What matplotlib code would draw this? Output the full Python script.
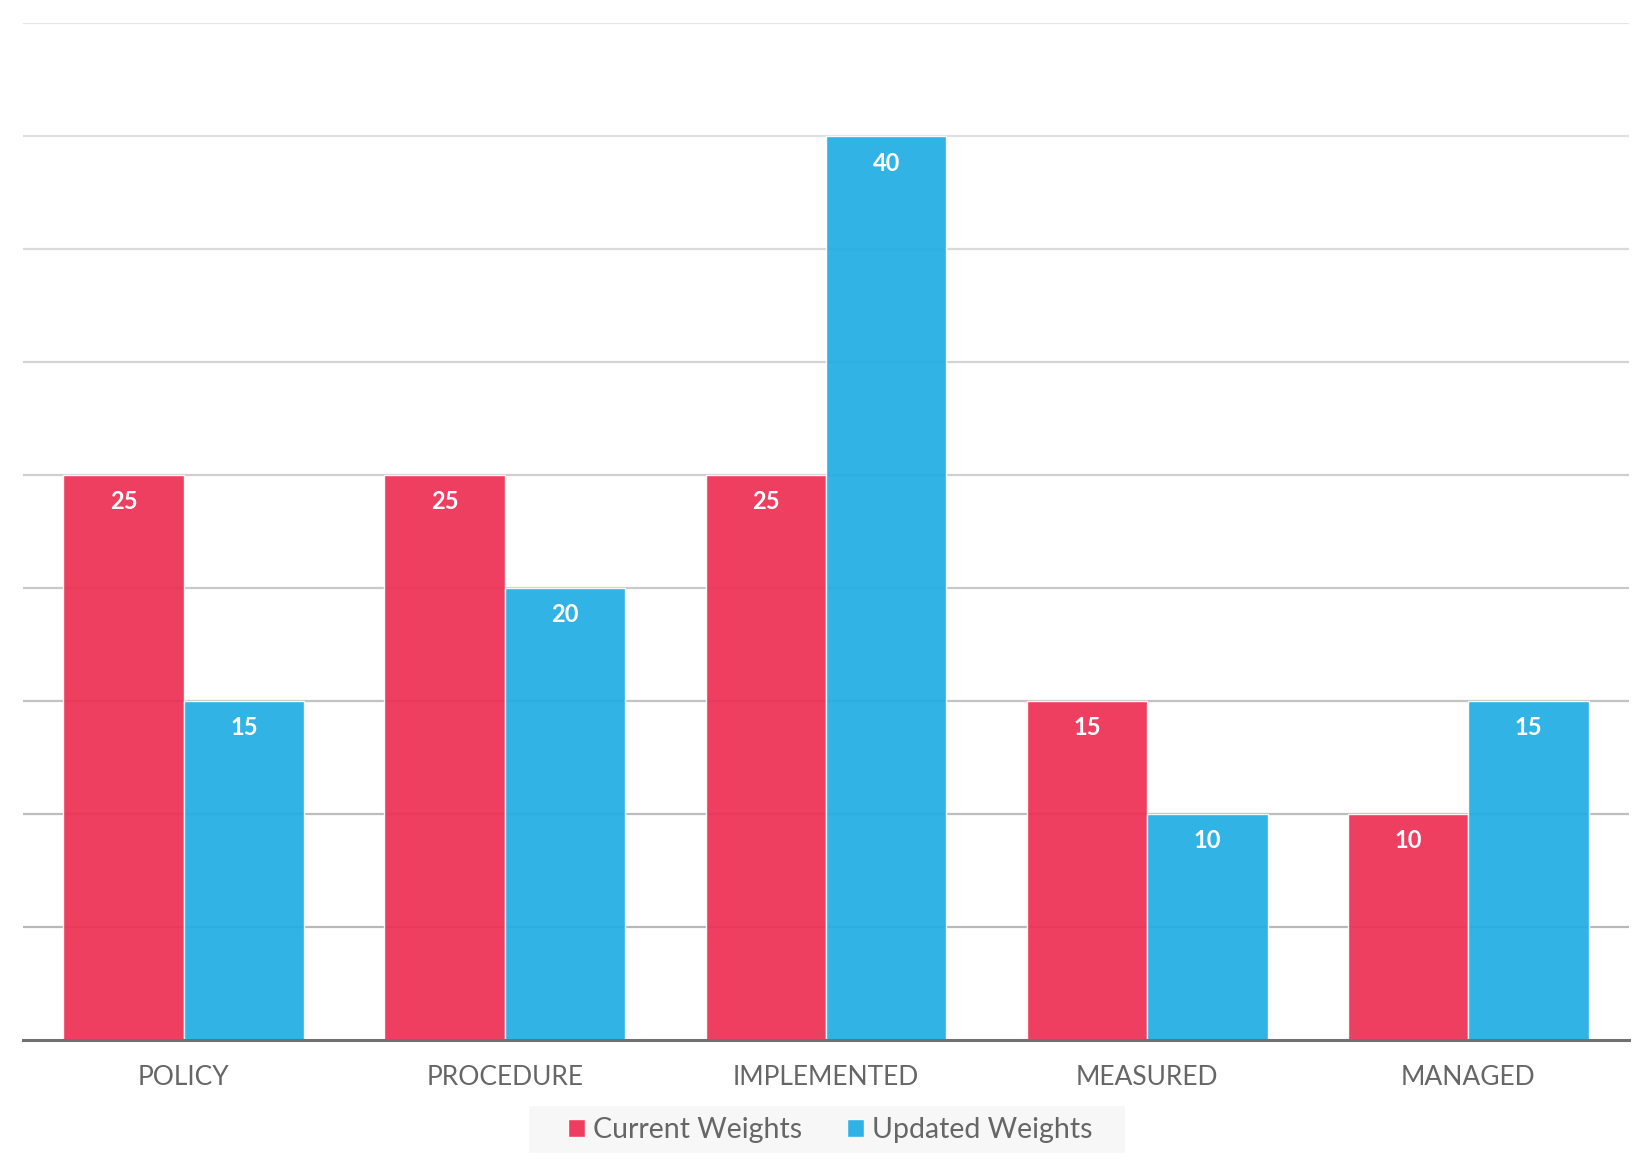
import numpy as np
import matplotlib
matplotlib.use("Agg")
import matplotlib.pyplot as plt
from matplotlib.patches import Rectangle

# data
categories = ["POLICY", "PROCEDURE", "IMPLEMENTED", "MEASURED", "MANAGED"]
current = [25, 25, 25, 15, 10]
updated = [15, 20, 40, 10, 15]
series_names = ["Current Weights", "Updated Weights"]

red = "#EE3054"
blue = "#22ADE5"
text_gray = "#666666"

plt.rcParams['font.family'] = ['Lato', 'DejaVu Sans']

fig = plt.figure(figsize=(16.52, 11.64), dpi=100)
ax = fig.add_axes([0.014, 0.1066, 0.972, 0.8734])

x = np.arange(len(categories))
w = 0.375

# gridlines, a bit darker toward the bottom
levels = np.arange(5, 50, 5)
for lv in levels:
    t = (lv - 5) / 40.0
    g = 0.72 + t * (0.90 - 0.72)
    ax.axhline(lv, color=(g, g, g), linewidth=1.6, zorder=1)

b1 = ax.bar(x - w / 2, current, w, color=red, alpha=0.93, edgecolor="white",
            linewidth=1, zorder=2, label=series_names[0])
b2 = ax.bar(x + w / 2, updated, w, color=blue, alpha=0.93, edgecolor="white",
            linewidth=1, zorder=2, label=series_names[1])

for bars, vals in ((b1, current), (b2, updated)):
    for r, v in zip(bars, vals):
        ax.annotate(str(v), xy=(r.get_x() + r.get_width() / 2, v),
                    xytext=(0, -11), textcoords="offset points",
                    ha="center", va="top", color="white", fontsize=17,
                    fontweight="bold", zorder=3)

ax.set_xlim(-0.5, 4.5)
ax.set_ylim(0, 45)
ax.set_yticks([])
ax.set_xticks(x)
ax.set_xticklabels(categories, fontsize=19, color=text_gray)
ax.tick_params(axis="x", length=0, pad=18)
for s in ["top", "right", "left"]:
    ax.spines[s].set_visible(False)
ax.spines["bottom"].set_color("#707070")
ax.spines["bottom"].set_linewidth(2.2)
ax.spines["bottom"].set_zorder(4)

# legend background box
fig.patches.append(Rectangle((0.320, 0.0096), 0.361, 0.040, transform=fig.transFigure,
                             facecolor="#f7f7f7", edgecolor="none", zorder=0))
leg = fig.legend(handles=[b1, b2], labels=series_names, loc="center",
                 bbox_to_anchor=(0.5025, 0.029), ncol=2, frameon=False,
                 fontsize=20.5, handlelength=0.6, handleheight=0.6,
                 handletextpad=0.3, columnspacing=1.55)
for t in leg.get_texts():
    t.set_color(text_gray)

fig.savefig("out.png", dpi=100, facecolor="white")
